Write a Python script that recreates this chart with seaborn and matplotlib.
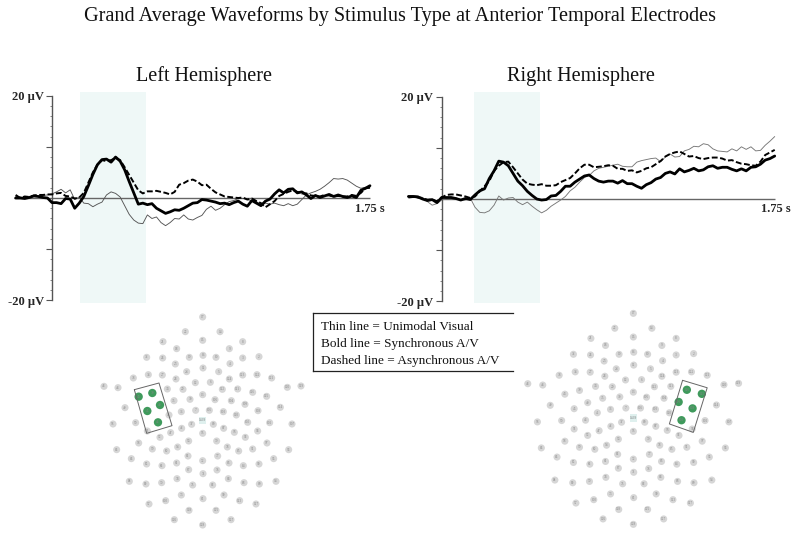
import numpy as np
import matplotlib
matplotlib.use("Agg")
import matplotlib.pyplot as plt
import seaborn as sns

sns.set_style("white")
plt.rcParams['font.family'] = ['Liberation Serif', 'DejaVu Sans']

W, H = 800, 535

# waveforms, microvolts, read every 25 ms
left_time = np.arange(79) * 0.025 - 0.2
right_time = np.arange(78) * 0.025 - 0.175

left_bold = [0, 0, -0.1, 0.1, 0.4, 0.3, 0.1, 0, -0.9, -0.9, -1.1, -0.1, -0.2, -2.0, -1.0, 0.3, 2.4, 4.6, 6.5, 7.5,
             7.6, 7.0, 8.0, 7.2, 5.5, 3.2, 1.0, -1.2, -1.0, -1.3, -1.1, -2.0, -2.5, -3.0, -2.7, -2.3, -2.4, -2.0, -1.5, -1.0,
             -0.9, -0.3, -0.4, -0.6, -0.8, -1.1, -1.0, -1.3, -0.9, -0.6, -1.2, -1.6, -0.5, -1.0, -1.5, -0.6, -0.2, 0.8, 1.6, 1.0,
             1.7, 1.8, 1.0, 1.2, 0.6, -0.1, 0.5, 0.1, 0.4, 0.7, 0.3, 0.6, 0.3, 0.1, 0.4, 0.1, 1.5, 1.9, 2.4]
left_dashed = [0.6, 0, 0.3, 0.2, 0.5, 0.6, 0.6, 0.7, 0.7, 0.9, 1.0, 0.4, 0.3, -0.1, 0.1, 1.0, 3.0, 5.0, 6.5, 7.4,
               7.2, 7.4, 7.8, 7.4, 6.0, 4.5, 3.0, 1.5, 0.9, 1.3, 1.3, 1.4, 1.2, 1.0, 0.7, 1.2, 2.6, 2.9, 3.4, 3.6,
               3.2, 2.5, 2.6, 1.8, 1.1, 0.7, 0.3, 0.2, 0.1, 0, 0.1, -0.3, -0.1, -0.6, -1.0, -1.8, -1.2, -0.6, 0.4, 0.8,
               1.2, 1.5, 1.2, 0.9, 0.9, 0.5, 0.4, 0.3, 0.6, 0.5, 0.3, 0.4, 0.3, 0.3, 0.6, 0.4, 1.0, 1.9, 2.0]
left_thin = [0.3, 0.2, 0, 0.2, 0.5, 0.4, 0.5, 0.6, 0.8, 1.2, 1.7, 1.0, 1.6, -0.3, 0.2, -1.0, -1.1, -1.7, -1.2, -0.8,
             0.6, 1.2, 0.9, 0.2, -1.5, -3.2, -4.3, -4.9, -5.0, -3.3, -4.0, -3.7, -4.8, -5.4, -4.8, -4.0, -4.1, -3.3, -4.1, -4.3,
             -3.8, -3.4, -2.2, -1.6, -2.4, -2.0, -1.3, -0.7, -0.5, -0.1, -0.1, -0.2, -0.6, -0.7, -1.3, -1.0, -1.2, -1.0, -1.3, -1.5,
             -1.1, -1.5, -1.2, -0.3, 0.6, 1.0, 1.3, 1.7, 2.3, 3.0, 3.8, 3.7, 3.8, 3.5, 2.9, 2.3, 1.9, 2.1, 2.0]

right_bold = [0.5, 0.5, 0.4, 0, -0.3, -0.1, -0.7, 0.3, 0.3, 0.3, 0.1, -0.2, 0.1, -0.1, 0.8, 1.6, 2.0, 4.0, 5.5, 7.4,
              7.2, 6.5, 5.0, 3.5, 2.6, 1.5, 0.7, 0, -0.2, -0.1, 0.6, 0.7, 1.5, 2.5, 2.5, 3.3, 3.9, 4.5, 4.7, 4.0,
              3.5, 3.3, 3.5, 3.5, 3.1, 3.6, 3.0, 3.0, 2.5, 2.1, 2.8, 3.2, 3.9, 4.2, 5.0, 5.3, 4.9, 5.9, 5.3, 5.6,
              6.0, 5.5, 5.7, 6.3, 6.5, 6.0, 6.2, 6.2, 5.8, 5.5, 5.9, 5.5, 6.2, 6.3, 6.8, 7.6, 7.9, 8.4]
right_dashed = [0.3, 0.4, 0.3, 0.1, -0.1, -0.1, -0.4, 0.3, 0.8, 0.9, 0.9, 0.7, 0.5, 0.2, 0.5, 1.5, 2.5, 3.5, 5.5, 6.5,
                7.2, 7.3, 6.2, 5.0, 3.8, 3.0, 2.8, 2.7, 2.9, 2.6, 2.6, 2.7, 3.3, 3.7, 4.1, 5.0, 6.0, 6.7, 6.7, 6.2,
                6.3, 6.4, 6.6, 6.5, 5.9, 5.9, 5.5, 5.6, 5.2, 5.5, 6.0, 6.2, 6.8, 7.4, 8.3, 8.8, 9.1, 9.3, 8.8, 8.3,
                8.4, 8.0, 7.8, 8.0, 8.1, 8.1, 7.9, 7.5, 7.6, 7.2, 6.9, 6.8, 6.6, 6.5, 7.3, 8.6, 9.1, 9.6]
right_thin = [0.7, 0.7, 0.6, 0.3, -0.5, -1.2, -0.9, -0.2, 0.1, 0.1, 0.2, -0.1, -0.2, 0.2, -1.6, -2.6, -2.7, -2.3, -1.2, 0.6,
              -0.2, 0.2, 0.3, -0.6, -1.1, -0.6, -1.4, -2.1, -2.7, -2.2, -1.4, -0.8, -0.2, 0.5, 1.6, 2.3, 3.3, 4.2, 4.6, 5.5,
              6.0, 6.2, 6.4, 6.6, 6.8, 6.4, 6.3, 6.3, 7.2, 7.5, 7.7, 7.9, 8.0, 7.3, 8.2, 8.8, 8.2, 8.3, 9.4, 9.7,
              10.3, 10.2, 10.8, 10.6, 9.8, 9.4, 9.3, 9.2, 9.8, 9.4, 10.2, 9.7, 10.2, 9.4, 9.5, 10.5, 11.3, 12.2]

# sensor net layout
elec_x = [338, 286, 390, 219, 338, 458, 260, 418, 170, 218, 298, 339, 378, 458, 507, 256, 420, 290, 339, 386,
          130, 175, 217, 258, 316, 361, 418, 458, 501, 545, 42, 84, 146, 187, 232, 279, 338, 397, 443, 488,
          530, 592, 633, 105, 172, 210, 252, 300, 375, 424, 465, 504, 571, 69, 137, 204, 237, 274, 317, 358,
          400, 439, 473, 539, 606, 172, 242, 275, 305, 370, 401, 433, 503, 146, 210, 296, 338, 380, 466, 531,
          80, 187, 230, 263, 412, 446, 488, 596, 124, 170, 216, 260, 294, 338, 383, 417, 460, 507, 551, 296,
          339, 381, 118, 168, 215, 261, 308, 368, 415, 462, 508, 558, 274, 339, 402, 177, 227, 449, 498, 297,
          378, 253, 423, 338]
elec_y = [36, 80, 80, 110, 106, 110, 131, 131, 157, 159, 157, 151, 157, 159, 155, 177, 176, 200, 189, 200,
          219, 209, 210, 222, 233, 232, 222, 210, 209, 219, 244, 248, 275, 264, 252, 253, 269, 253, 252, 262,
          274, 247, 243, 308, 318, 300, 287, 283, 284, 287, 298, 317, 307, 357, 353, 352, 330, 320, 316, 316,
          320, 330, 352, 353, 357, 378, 383, 370, 358, 358, 370, 382, 378, 414, 397, 408, 385, 408, 397, 414,
          434, 432, 438, 426, 426, 438, 432, 434, 461, 477, 482, 474, 453, 467, 453, 474, 482, 477, 461, 494,
          506, 495, 529, 537, 533, 521, 540, 540, 521, 533, 537, 529, 570, 581, 570, 597, 587, 587, 597, 616,
          616, 644, 644, 660]
elec_label = [17, 22, 14, 21, 15, 8, 18, 9, 32, 26, 19, 16, 10, 3, 2, 23, 4, 24, 11, 5,
              38, 33, 27, 28, 12, 6, 124, 123, 122, 121, 48, 43, 44, 39, 34, 29, 13, 112, 111, 116,
              115, 120, 119, 49, 45, 40, 35, 30, 105, 104, 109, 108, 114, 56, 50, 46, 41, 36, 7, 106,
              103, 110, 102, 101, 107, 51, 47, 42, 37, 80, 87, 93, 98, 58, 52, 53, 55, 79, 92, 97,
              63, 59, 60, 54, 78, 85, 91, 96, 64, 65, 66, 61, 62, 72, 77, 86, 84, 90, 95, 67,
              71, 76, 68, 69, 70, 74, 75, 82, 83, 88, 89, 94, 73, 81, 99, 57, 100, 113, 117, 118,
              125, 126, 127, 128]
left_active = [44, 39, 45, 40, 46]
right_active = [115, 116, 108, 109, 102]
left_box_x = [133, 207, 246, 170, 133]
left_box_y = [254, 234, 362, 385, 254]
right_box_x = [476, 545, 506, 439, 476]
right_box_y = [234, 256, 388, 363, 234]
hub_x = [338]
hub_y = [346]

title = "Grand Average Waveforms by Stimulus Type at Anterior Temporal Electrodes"
key_lines = ["Thin line = Unimodal Visual", "Bold line = Synchronous A/V", "Dashed line = Asynchronous A/V"]


def px_axes(fig, x0, y0, x1, y1):
    # pixel box, y measured from the top of the image
    return fig.add_axes([x0 / W, 1 - y1 / H, (x1 - x0) / W, (y1 - y0) / H])


def waveform_panel(ax, t, thin, dashed, bold, thin_col, band, x_start):
    ax.axvspan(band[0], band[1], color="#eff8f7", lw=0, zorder=0)
    ax.hlines(0, x_start, 1.75, color="#666666", lw=1.0, zorder=1)
    sns.lineplot(x=t, y=thin, color=thin_col, lw=0.65, ax=ax, zorder=2)
    sns.lineplot(x=t, y=dashed, color="black", lw=1.4, ax=ax, dashes=False, zorder=3).lines[-1].set_dashes((3, 1.3))
    sns.lineplot(x=t, y=bold, color="black", lw=2.0, ax=ax, zorder=4)
    sns.despine(ax=ax, bottom=True)
    ax.spines['left'].set_position(('data', 0))
    ax.spines['left'].set_bounds(-20, 20)
    ax.spines['left'].set_color("#555555")
    ax.spines['left'].set_linewidth(1.0)
    ax.set_xticks([])
    ax.set_yticks([-20, -10, 10, 20])
    ax.set_yticks(np.arange(-20, 21, 2), minor=True)
    ax.set_yticklabels(["-20 \u00b5V", "", "", "20 \u00b5V"], fontsize=9, fontweight="bold")
    ax.tick_params(axis='y', which='major', length=4, width=0.8, color="#555555", left=True, pad=2)
    ax.tick_params(axis='y', which='minor', length=1.5, width=0.5, color="#555555", left=True)
    ax.set_facecolor("none")
    ax.set_xlabel("")
    ax.set_ylabel("")


def head_map(ax, active, box_x, box_y):
    x = np.array(elec_x)
    y = np.array(elec_y)
    lab = np.array(elec_label)
    on = np.isin(lab, active)
    sns.scatterplot(x=x[~on], y=y[~on], s=26, color="#d6d6d6", edgecolor="none", ax=ax, zorder=2)
    sns.scatterplot(x=x[on], y=y[on], s=36, color="#3f9a5c", edgecolor="none", ax=ax, zorder=3)
    sns.scatterplot(x=hub_x, y=hub_y, s=30, marker="s", color="#dff0ee", edgecolor="none", ax=ax, zorder=2)
    ax.text(hub_x[0], hub_y[0], "1469", fontsize=2.6, color="#777777", ha="center", va="center", zorder=4)
    for ex, ey, el in zip(x, y, lab):
        ax.text(ex, ey, str(el), fontsize=2.4, color="#888888", ha="center", va="center", zorder=4)
    ax.plot(box_x, box_y, color="#666666", lw=0.7, zorder=5)
    ax.set_xlim(0, 720)
    ax.set_ylim(690, 0)
    ax.axis("off")


fig = plt.figure(figsize=(W / 100, H / 100), dpi=100)

# left hemisphere waveforms
ax1 = px_axes(fig, 10, 92, 392, 303)
waveform_panel(ax1, left_time, left_thin, left_dashed, left_bold, "#555555", (0.154, 0.517), -0.21)
ax1.set_xlim((10 - 52) / 181.7, (392 - 52) / 181.7)
ax1.set_ylim(-20.5, 20.7)
ax1.text(1.665, -2.1, "1.75 s", fontsize=9, fontweight="bold", va="center")

# right hemisphere waveforms
ax2 = px_axes(fig, 405, 92, 798, 303)
waveform_panel(ax2, right_time, right_thin, right_dashed, right_bold, "#777777", (0.17, 0.517), 0)
ax2.set_xlim((405 - 441.7) / 190.3, (798 - 441.7) / 190.3)
ax2.set_ylim(-20.3, 20.9)
ax2.text(1.68, -2.0, "1.75 s", fontsize=9, fontweight="bold", va="center")

# head maps
ax3 = px_axes(fig, 90, 305, 330, 535)
head_map(ax3, left_active, left_box_x, left_box_y)
ax4 = px_axes(fig, 512.8, 301.2, 769.6, 534.5)
head_map(ax4, right_active, right_box_x, right_box_y)

# key box, open on the right side
key = px_axes(fig, 313, 313, 513, 371)
key.set_xlim(0, 1)
key.set_ylim(0, 1)
key.set_xticks([])
key.set_yticks([])
key.patch.set_alpha(0)
key.spines['right'].set_visible(False)
for side in ['left', 'top', 'bottom']:
    key.spines[side].set_linewidth(0.9)
    key.spines[side].set_color("#222222")
for i, line in enumerate(key_lines):
    key.text(0.04, 0.76 - i * 0.29, line, fontsize=9.5, va="center", color="#111111")

fig.text(400.5 / W, 1 - 16.5 / H, title, fontsize=14.6, ha="center", va="center", color="#111111")
fig.text(203.5 / W, 1 - 76 / H, "Left Hemisphere", fontsize=14.5, ha="center", va="center", color="#111111")
fig.text(580.5 / W, 1 - 76 / H, "Right Hemisphere", fontsize=14.6, ha="center", va="center", color="#111111")

fig.savefig("out.png", dpi=100)
